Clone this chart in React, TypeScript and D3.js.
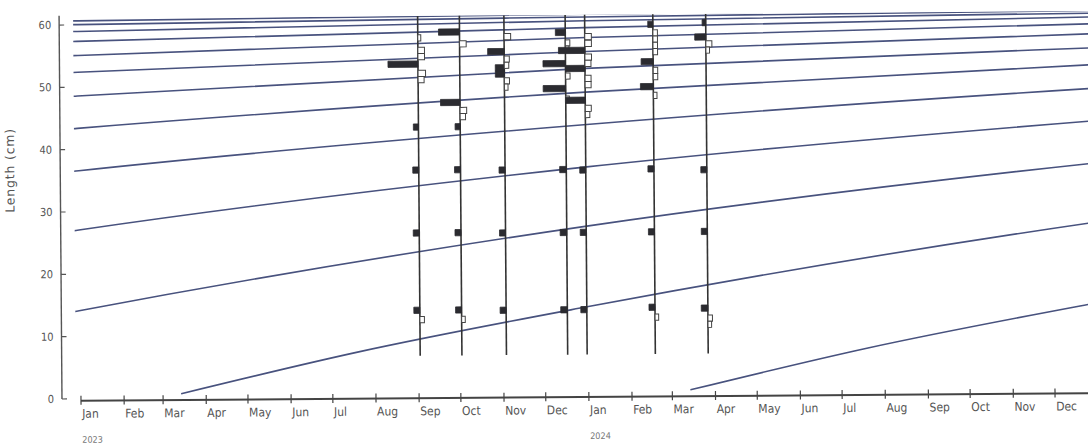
import React from "react";
import * as d3 from "d3";

// ---------- data ----------
const monthLabels = ["Jan","Feb","Mar","Apr","May","Jun","Jul","Aug","Sep","Oct","Nov","Dec"];
const yearLabels = ["2023", "2024"];
const yTicks = [0, 10, 20, 30, 40, 50, 60];

// growth curve: length (cm) at age (years)
const ageYears = [0, 0.35, 0.8, 1.8, 2.8, 3.8, 4.8, 5.8, 6.8, 7.8, 8.8, 9.8, 10.8, 11.8, 12.8];
const lengthAtAge = [0.7, 7.2, 14.15, 27.1, 36.6, 43.4, 48.6, 52.4, 55.1, 57.35, 58.95, 60.05, 60.65, 61.08, 61.45];
// cohorts hatch around 14 March each year
const cohortYears = [2012, 2013, 2014, 2015, 2016, 2017, 2018, 2019, 2020, 2021, 2022, 2023, 2024];
const hatchMonth = 2;
const hatchDay = 14;

// length-frequency samples: [length cm, restructured score] (score < 0 = white box)
const sampleDates = ["2023-09-02", "2023-10-02", "2023-11-03", "2023-12-17", "2023-12-31", "2024-02-18", "2024-03-27"];
const sampleSep = [[53.3, 1.0], [43.2, 0.17], [36.3, 0.2], [26.2, 0.2], [13.8, 0.2], [57.5, -0.1], [55.5, -0.22], [54.5, -0.22], [51.8, -0.25], [50.8, -0.2], [12.3, -0.15]];
const sampleOct = [[58.4, 0.7], [47.1, 0.65], [43.2, 0.17], [36.3, 0.2], [26.2, 0.2], [13.8, 0.2], [56.5, -0.22], [45.8, -0.22], [44.8, -0.18], [12.3, -0.12]];
const sampleNov = [[55.2, 0.55], [52.6, 0.3], [51.6, 0.3], [36.2, 0.2], [26.1, 0.2], [13.7, 0.2], [57.6, -0.22], [54.0, -0.17], [53.0, -0.15], [50.5, -0.17], [49.5, -0.12]];
const sampleDec1 = [[58.2, 0.33], [53.2, 0.75], [49.2, 0.75], [36.2, 0.22], [26.1, 0.22], [13.7, 0.22], [56.5, -0.15], [55.5, -0.12], [51.2, -0.15], [47.5, -0.12]];
const sampleDec2 = [[55.3, 0.88], [52.4, 0.65], [47.3, 0.65], [36.1, 0.2], [26.1, 0.2], [13.7, 0.2], [57.5, -0.22], [56.4, -0.22], [54.2, -0.22], [53.2, -0.2], [50.8, -0.2], [49.8, -0.2], [46.0, -0.2], [45.0, -0.15]];
const sampleFeb = [[59.4, 0.17], [53.4, 0.4], [49.4, 0.43], [36.2, 0.2], [26.1, 0.2], [14.0, 0.2], [58.0, -0.15], [57.0, -0.15], [56.0, -0.15], [55.0, -0.15], [52.0, -0.15], [51.0, -0.15], [48.0, -0.12], [12.4, -0.12]];
const sampleMar = [[59.6, 0.12], [57.3, 0.37], [36.0, 0.2], [26.1, 0.2], [13.8, 0.22], [56.2, -0.2], [55.2, -0.12], [12.2, -0.15], [11.2, -0.12]];
const samples = [sampleSep, sampleOct, sampleNov, sampleDec1, sampleDec2, sampleFeb, sampleMar];
const sampleMinLength = 6.5;
const sampleMaxLength = 61;
const binWidth = 1;

// ---------- layout ----------
const W = 1088;
const H = 446;
const DAY = 86400000;

const x = d3
  .scaleUtc()
  .domain([new Date(Date.UTC(2023, 0, 1)), new Date(Date.UTC(2025, 0, 1))])
  .range([81, 81 + 731 * 1.3915]);
const y = d3.scaleLinear().domain([0, 61]).range([399, 399 - 61 * 6.233]);
const score = d3.scaleLinear().domain([0, 1]).range([0, 30]);

const months = d3.utcMonth.range(new Date(Date.UTC(2023, 0, 1)), new Date(Date.UTC(2024, 11, 2)));

const line = d3
  .line<[number, number]>()
  .x((d) => x(new Date(d[0])))
  .y((d) => y(d[1]))
  .curve(d3.curveMonotoneX);

const narrow = "'Liberation Sans Narrow', 'DejaVu Sans Condensed', 'Roboto Condensed', sans-serif";

export default function App() {
  const cohortPaths = cohortYears.map((yr) => {
    const birth = Date.UTC(yr, hatchMonth, hatchDay);
    const pts: [number, number][] = ageYears.map((a, i) => [birth + a * 365.25 * DAY, lengthAtAge[i]]);
    return line(pts) || "";
  });

  return (
    <svg
      width={W}
      height={H}
      viewBox={`0 0 ${W} ${H}`}
      style={{ position: "absolute", left: 0, top: 0, background: "#fff" }}
    >
      <defs>
        <clipPath id="plotClip">
          <rect x={76} y={y(61)} width={1100} height={y(0) - y(61) + 6} />
        </clipPath>
      </defs>
      <rect x={0} y={0} width={W} height={H} fill="#fff" />
      <g transform="rotate(-0.435 62 401)">
        {/* growth curves */}
        <g clipPath="url(#plotClip)" fill="none" stroke="#48527e" strokeWidth={1.6}>
          {cohortPaths.map((p, i) => (
            <path key={i} d={p} />
          ))}
        </g>

        {/* samples */}
        {samples.map((s, si) => {
          const sx = x(new Date(sampleDates[si] + "T00:00:00Z"));
          return (
            <g key={si}>
              <line x1={sx} x2={sx} y1={y(sampleMinLength)} y2={y(sampleMaxLength)} stroke="#333" strokeWidth={1.6} />
              {s.map(([len, sc], bi) => {
                const top = y(len + binWidth / 2);
                const h = y(len - binWidth / 2) - top;
                const w = score(Math.abs(sc));
                return sc > 0 ? (
                  <rect key={bi} x={sx - w} y={top} width={w} height={h} fill="#2b2b30" stroke="#2b2b30" strokeWidth={0.8} />
                ) : (
                  <rect key={bi} x={sx} y={top} width={w} height={h} fill="#fff" stroke="#444" strokeWidth={1} />
                );
              })}
            </g>
          );
        })}

        {/* y axis */}
        <line x1={62} x2={62} y1={y(61.5)} y2={y(0)} stroke="#555" strokeWidth={1.4} />
        {yTicks.map((t) => (
          <g key={t}>
            <line x1={62} x2={67} y1={y(t)} y2={y(t)} stroke="#555" strokeWidth={1.2} />
            <text x={54} y={y(t)} dy="0.35em" textAnchor="end" fontFamily={narrow} fontSize={11} fill="#555">
              {t}
            </text>
          </g>
        ))}
        <text
          transform="translate(16,170) rotate(-90)"
          textAnchor="middle"
          fontFamily="'DejaVu Sans', sans-serif"
          fontSize={12.5}
          letterSpacing={0.8}
          fill="#555"
        >
          Length (cm)
        </text>

        {/* x axis */}
        <line x1={81} x2={1100} y1={401} y2={401} stroke="#444" strokeWidth={2} />
        {months.map((m, i) => (
          <g key={i}>
            <line x1={x(m)} x2={x(m)} y1={396} y2={405} stroke="#444" strokeWidth={1.2} />
            <text x={x(m) + 1} y={418} fontFamily={narrow} fontSize={12} fill="#555">
              {monthLabels[m.getUTCMonth()]}
            </text>
          </g>
        ))}
        {yearLabels.map((yl, i) => (
          <text
            key={yl}
            x={x(new Date(Date.UTC(2023 + i, 0, 1))) + 1}
            y={443}
            fontFamily={narrow}
            fontSize={9}
            fill="#777"
          >
            {yl}
          </text>
        ))}
      </g>
    </svg>
  );
}
